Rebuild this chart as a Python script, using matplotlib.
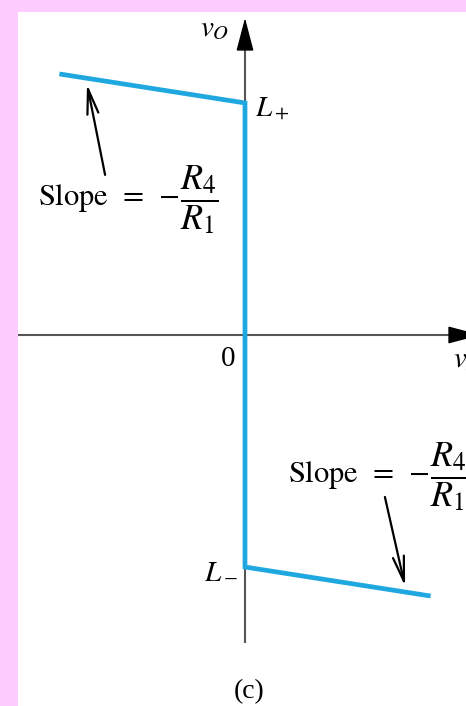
import matplotlib
matplotlib.use("Agg")
import matplotlib.pyplot as plt
import numpy as np

plt.rcParams['mathtext.fontset'] = 'stix'
plt.rcParams['font.family'] = ['Liberation Serif', 'DejaVu Serif']

# transfer characteristic v_O(v_I), bistable with finite-slope limits
L_plus = 10.0
L_minus = -10.0
v_I = [-8.0, 0.0, 0.0, 8.0]
v_O = [11.25, L_plus, L_minus, -11.25]

blue = '#1fa8e0'
axis_grey = '#555555'

fig = plt.figure(figsize=(4.66, 7.06), dpi=100, facecolor='#ffccff')
ax = fig.add_axes([18 / 466, 0, 448 / 466, 694 / 706], facecolor='white')
ax.set_xlim(-9.784, 9.526)
ax.set_ylim(-15.99, 13.92)
ax.set_xticks([])
ax.set_yticks([])
for s in ax.spines.values():
    s.set_visible(False)

# coordinate axes with black heads
ax.plot([-9.784, 9.2], [0, 0], color=axis_grey, lw=1.5, solid_capstyle='butt', zorder=1)
ax.plot([0, 0], [-13.28, 12.6], color=axis_grey, lw=1.5, solid_capstyle='butt', zorder=1)
head = dict(arrowstyle='-|>,head_length=21,head_width=5.5', mutation_scale=1,
            color='black', lw=1, shrinkA=0, shrinkB=0)
ax.annotate('', xy=(0, 13.66), xytext=(0, 12.3), arrowprops=head, zorder=2,
            annotation_clip=False)
ax.annotate('', xy=(10.17, 0), xytext=(8.9, 0), arrowprops=head, zorder=2,
            annotation_clip=False)

ax.plot(v_I, v_O, color=blue, lw=3.4, solid_joinstyle='miter',
        solid_capstyle='butt', zorder=3)

fs = 21
ax.text(-0.69, 13.2, r'$v_O$', fontsize=21, ha='right', va='center')
ax.text(8.97, -1.08, r'$v_I$', fontsize=fs, ha='left', va='center')
ax.text(-0.73, -1.03, '0', fontsize=fs, ha='center', va='center')
ax.text(0.43, 9.48, r'$L_+$', fontsize=fs, ha='left', va='baseline')
ax.text(-0.30, -10.47, r'$L_-$', fontsize=fs, ha='right', va='baseline')

# slope labels: lead-in text plus a full-size fraction
lead_txt = r'$\mathrm{Slope}\ \,=\;-$'
frac_txt = r'$\dfrac{R_4}{R_1}$'
ax.text(-2.80, 5.9, lead_txt, fontsize=22, ha='right', va='center')
ax.text(-2.80, 5.82, frac_txt, fontsize=26, ha='left', va='center')
ax.text(7.97, -6.04, lead_txt, fontsize=22, ha='right', va='center')
ax.text(7.97, -6.12, frac_txt, fontsize=26, ha='left', va='center')

# pointers from the labels onto the two sloped segments
arrow = dict(arrowstyle='->,head_length=0.9,head_width=0.2', mutation_scale=20,
             color='black', lw=1.6, shrinkA=0, shrinkB=0)
x_up = -6.81
y_up = np.interp(x_up, v_I[:2], v_O[:2]) - 0.25
ax.annotate('', xy=(x_up, y_up), xytext=(-6.03, 6.9), arrowprops=arrow)
x_lo = 6.9
y_lo = np.interp(x_lo, v_I[2:], v_O[2:]) + 0.25
ax.annotate('', xy=(x_lo, y_lo), xytext=(6.03, -6.98), arrowprops=arrow)

ax.text(0.17, -15.39, '(c)', fontsize=20, ha='center', va='center')

fig.savefig('out.png', dpi=100, facecolor=fig.get_facecolor())
